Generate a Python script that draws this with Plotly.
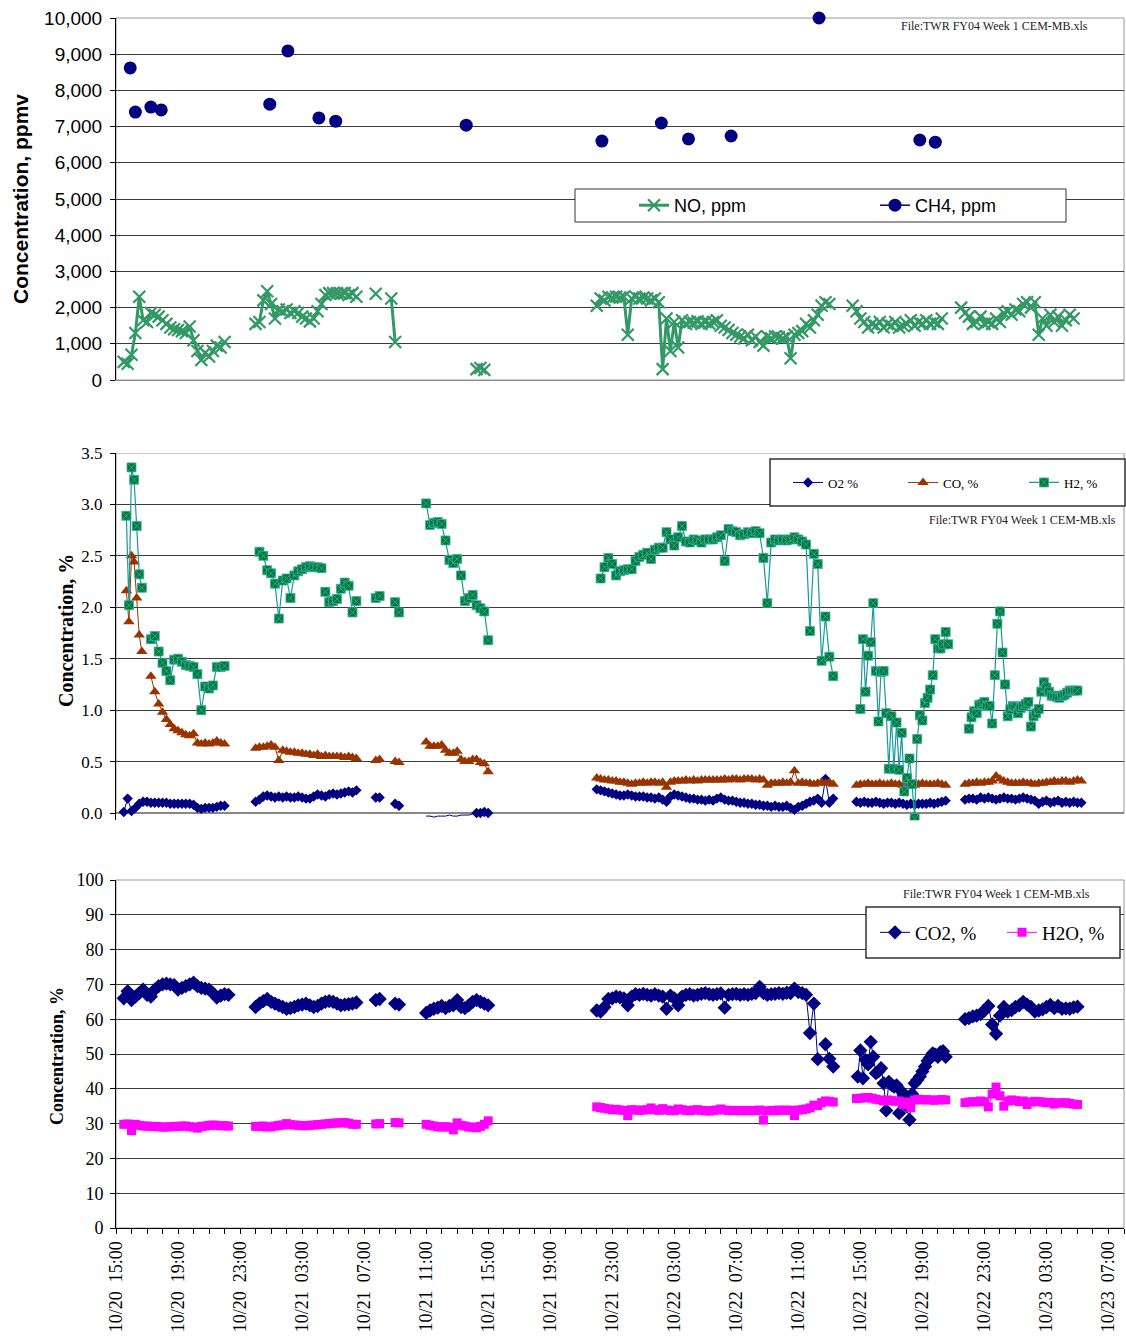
from datetime import datetime, timedelta
import plotly.graph_objects as go

YEAR = 2003

# ---------------- NO, ppm (15-minute CEM readings) ----------------
NO_A = [500, 450, 700, 1300, 2300, 1650, 1600, 1850, 1800, 1750, 1650, 1550, 1450, 1400,
        1380, 1350, 1300, 1480, 1100, 800, 550, 750, 650, 800, 950, 900, 1050]
NO_B = [1550, 1600, 2200, 2450, 2100, 1700, 1950, 1900, 1950, 1850, 1900, 1850, 1750, 1700,
        1620, 1700, 1900, 2100, 2350, 2400, 2400, 2400, 2380, 2400, 2350, 2400, 2300]
NO_C = [2380]
NO_D = [2250, 1050]
NO_E = [300, 330, 280]
NO_F = [2050, 2250, 2200, 2300, 2280, 2300, 2280, 2300, 1250, 2250, 2300, 2250, 2280, 2250,
        2200, 2250, 2150, 300, 1700, 800, 1600, 900, 1650, 1550, 1600, 1580, 1620, 1550,
        1600, 1560, 1600, 1650, 1500, 1450, 1380, 1300, 1250, 1200, 1150, 1250, 1100, 1200,
        1050, 950, 1200, 1150, 1200, 1180, 1150, 1200, 600, 1250, 1300, 1350, 1550, 1450,
        1650, 1800, 2050, 2150, 2100]
NO_G = [2050, 1900, 1700, 1600, 1450, 1550, 1500, 1600, 1450, 1550, 1500, 1600, 1450, 1500,
        1550, 1650, 1500, 1600, 1550, 1650, 1550, 1600, 1550, 1700]
NO_H = [2000, 1850, 1750, 1550, 1600, 1750, 1550, 1600, 1550, 1700, 1600, 1850, 1900, 1800,
        1950, 1900, 2100, 2150, 2000, 2150, 1250, 1700, 1500, 1800, 1600, 1750, 1500, 1650,
        1800, 1700]

# ---------------- CH4, ppm (grab samples) ----------------
CH4_TIMES = ["10-20 15:55", "10-20 16:15", "10-20 17:15", "10-20 17:55", "10-21 00:55",
             "10-21 02:05", "10-21 04:05", "10-21 05:10", "10-21 13:35", "10-21 22:20",
             "10-22 02:10", "10-22 03:55", "10-22 06:40", "10-22 12:20", "10-22 18:50",
             "10-22 19:50"]
CH4_PPM = [8620, 7400, 7540, 7460, 7620, 9090, 7240, 7150, 7040, 6600, 7100, 6660, 6740,
           10000, 6630, 6570]

# ---------------- O2, % ----------------
O2_A = [0.01, 0.14, 0.02, 0.05, 0.09, 0.11, 0.11, 0.10, 0.10, 0.10, 0.10, 0.10, 0.09, 0.09,
        0.09, 0.09, 0.09, 0.09, 0.08, 0.05, 0.04, 0.05, 0.05, 0.05, 0.06, 0.07, 0.07]
O2_B = [0.11, 0.13, 0.16, 0.17, 0.16, 0.15, 0.16, 0.15, 0.16, 0.15, 0.15, 0.16, 0.15, 0.14,
        0.14, 0.16, 0.18, 0.17, 0.16, 0.18, 0.19, 0.18, 0.19, 0.20, 0.21, 0.20, 0.22]
O2_C = [0.15, 0.15]
O2_D = [0.09, 0.07]
O2_E_LOW = [-0.03, -0.03, -0.04, -0.03, -0.03, -0.03, -0.02, -0.03, -0.03, -0.02, -0.02,
            -0.02, -0.01, 0.00]
O2_E = [0.00, 0.00, 0.01, 0.00]
O2_F = [0.23, 0.22, 0.21, 0.20, 0.19, 0.18, 0.17, 0.17, 0.18, 0.17, 0.16, 0.16, 0.16, 0.15,
        0.15, 0.14, 0.15, 0.13, 0.11, 0.16, 0.18, 0.17, 0.16, 0.15, 0.14, 0.14, 0.13, 0.13,
        0.12, 0.13, 0.12, 0.14, 0.15, 0.13, 0.12, 0.12, 0.11, 0.10, 0.10, 0.09, 0.09, 0.08,
        0.08, 0.07, 0.07, 0.06, 0.07, 0.06, 0.06, 0.07, 0.05, 0.03, 0.06, 0.07, 0.09, 0.11,
        0.12, 0.14, 0.10, 0.33, 0.10, 0.14]
O2_G = [0.11, 0.10, 0.11, 0.10, 0.10, 0.11, 0.10, 0.09, 0.10, 0.10, 0.09, 0.10, 0.09, 0.08,
        0.09, 0.08, 0.09, 0.09, 0.09, 0.10, 0.09, 0.10, 0.11, 0.12]
O2_H = [0.13, 0.14, 0.14, 0.13, 0.15, 0.14, 0.15, 0.14, 0.13, 0.14, 0.15, 0.14, 0.14, 0.13,
        0.14, 0.15, 0.14, 0.13, 0.12, 0.09, 0.11, 0.12, 0.10, 0.11, 0.12, 0.10, 0.11, 0.10,
        0.11, 0.10, 0.10]

# ---------------- CO, % ----------------
CO_A1 = [2.16, 1.86, 2.50, 2.44, 2.09, 1.73, 1.57]
CO_A2 = [1.33, 1.18, 1.06, 0.98, 0.91, 0.86, 0.82, 0.80, 0.78, 0.76, 0.75, 0.77, 0.68, 0.67,
         0.68, 0.67, 0.68, 0.70, 0.68, 0.67]
CO_B = [0.63, 0.64, 0.64, 0.65, 0.66, 0.64, 0.51, 0.61, 0.60, 0.59, 0.59, 0.58, 0.58, 0.57,
        0.57, 0.56, 0.57, 0.55, 0.56, 0.55, 0.55, 0.55, 0.55, 0.54, 0.55, 0.54, 0.53]
CO_C = [0.51, 0.52]
CO_D = [0.50, 0.49]
CO_E = [0.69, 0.65, 0.65, 0.65, 0.66, 0.61, 0.58, 0.58, 0.60, 0.52, 0.50, 0.50, 0.52, 0.52,
        0.49, 0.48, 0.40]
CO_F = [0.34, 0.33, 0.32, 0.32, 0.31, 0.31, 0.30, 0.30, 0.29, 0.28, 0.29, 0.29, 0.30, 0.29,
        0.30, 0.30, 0.29, 0.30, 0.25, 0.30, 0.31, 0.31, 0.31, 0.32, 0.31, 0.32, 0.31, 0.32,
        0.32, 0.32, 0.32, 0.32, 0.32, 0.33, 0.32, 0.33, 0.33, 0.32, 0.33, 0.33, 0.33, 0.32,
        0.33, 0.32, 0.27, 0.29, 0.29, 0.29, 0.30, 0.29, 0.30, 0.41, 0.29, 0.30, 0.29, 0.29,
        0.28, 0.29, 0.30, 0.29, 0.30, 0.28]
CO_G = [0.27, 0.28, 0.28, 0.29, 0.28, 0.28, 0.29, 0.28, 0.28, 0.29, 0.28, 0.28, 0.27, 0.28,
        0.28, 0.27, 0.28, 0.29, 0.28, 0.28, 0.28, 0.29, 0.28, 0.27]
CO_H = [0.28, 0.29, 0.29, 0.30, 0.29, 0.30, 0.30, 0.31, 0.36, 0.33, 0.31, 0.30, 0.29, 0.29,
        0.29, 0.30, 0.29, 0.29, 0.28, 0.29, 0.29, 0.30, 0.30, 0.31, 0.30, 0.31, 0.31, 0.30,
        0.31, 0.32, 0.31]

# ---------------- H2, % ----------------
H2_A1 = [2.89, 2.02, 3.36, 3.24, 2.79, 2.32, 2.19]
H2_A2 = [1.69, 1.72, 1.57, 1.46, 1.38, 1.29, 1.49, 1.50, 1.47, 1.44, 1.43, 1.42, 1.35, 1.00,
         1.23, 1.21, 1.24, 1.42, 1.42, 1.43]
H2_B1 = [2.54, 2.50, 2.36, 2.33, 2.23, 1.89, 2.26, 2.28, 2.09, 2.31, 2.35, 2.37, 2.39, 2.40,
         2.39, 2.39, 2.38]
H2_B2 = [2.15, 2.05, 2.06, 2.08, 2.18, 2.24, 2.21, 1.95, 2.06]
H2_C = [2.09, 2.11]
H2_D = [2.05, 1.95]
H2_E = [3.01, 2.80, 2.82, 2.83, 2.81, 2.65, 2.46, 2.43, 2.47, 2.31, 2.06, 2.09, 2.12, 2.02,
        1.99, 1.96, 1.68]
H2_F = [2.28, 2.39, 2.48, 2.42, 2.31, 2.35, 2.36, 2.37, 2.37, 2.45, 2.49, 2.51, 2.53, 2.47,
        2.56, 2.58, 2.58, 2.73, 2.66, 2.60, 2.68, 2.79, 2.64, 2.63, 2.66, 2.65, 2.63, 2.66,
        2.66, 2.66, 2.68, 2.70, 2.45, 2.76, 2.74, 2.73, 2.70, 2.71, 2.73, 2.72, 2.74, 2.72,
        2.48, 2.04, 2.63, 2.66, 2.65, 2.66, 2.65, 2.66, 2.68, 2.66, 2.64, 2.61, 1.77, 2.52,
        2.42, 1.48, 1.91, 1.52, 1.33]
H2_G = [1.01, 1.69, 1.18, 1.53, 1.66, 2.04, 1.38, 0.89, 1.37, 1.38, 0.97, 0.43, 0.94, 0.43,
        0.88, 0.42, 0.78, 0.21, 0.34, 0.53, 0.28, -0.05, 0.72, 0.95, 0.90, 1.07, 1.12, 1.20,
        1.34, 1.69, 1.60, 1.60, 1.64, 1.76, 1.64]
H2_H = [0.82, 0.93, 0.99, 0.97, 1.05, 1.06, 1.08, 1.04, 1.04, 0.87, 1.34, 1.84, 1.96, 1.56,
        1.25, 0.94, 1.01, 1.04, 1.03, 0.97, 1.02, 1.04, 1.06, 1.08, 0.84, 0.94, 0.97, 1.01,
        1.18, 1.27, 1.22, 1.18, 1.14, 1.14, 1.13, 1.12, 1.14, 1.15, 1.17, 1.19, 1.19, 1.19,
        1.19]

# ---------------- CO2, % ----------------
CO2_A = [66.0, 68.0, 65.5, 66.5, 67.5, 68.5, 67.0, 66.5, 68.5, 69.5, 70.0, 70.2, 70.0, 69.8,
         68.5, 69.0, 69.5, 70.0, 70.5, 69.5, 69.0, 68.8, 68.5, 67.5, 66.2, 66.8, 67.2, 67.0]
CO2_B = [63.5, 64.5, 65.2, 65.8, 65.0, 64.5, 64.0, 63.5, 63.0, 63.2, 63.5, 64.0, 64.2, 64.5,
         64.0, 63.5, 63.8, 64.5, 65.0, 65.2, 65.0, 64.5, 64.0, 64.2, 64.3, 64.5, 64.8]
CO2_C = [65.5, 65.8]
CO2_D = [64.5, 64.2]
CO2_E = [61.8, 62.5, 63.0, 63.3, 63.8, 63.2, 63.8, 64.0, 65.5, 63.5, 63.2, 64.0, 65.0, 65.5,
         65.0, 64.5, 64.0]
CO2_F = [62.5, 62.2, 63.5, 65.8, 66.0, 66.5, 66.3, 66.0, 64.0, 66.5, 67.2, 67.0, 67.3, 67.0,
         66.8, 67.2, 66.8, 66.5, 63.0, 66.8, 66.0, 64.0, 66.5, 67.0, 67.2, 66.8, 67.0, 67.3,
         67.5, 67.2, 67.0, 67.2, 67.4, 63.3, 67.0, 67.2, 67.3, 67.0, 67.2, 67.0, 67.3, 67.5,
         69.3, 67.5, 67.0, 67.2, 67.3, 67.5, 67.3, 67.6, 67.5, 68.8, 67.8, 67.5, 67.0, 56.0,
         64.5, 48.5, None, 52.8, 48.6, 46.4]
CO2_G = [43.5, 51.0, 43.0, 48.3, 47.0, 53.5, 49.2, 44.5, 45.0, 45.9, 41.6, 33.8, 42.0, 41.1,
         40.6, 41.0, 33.0, 39.2, 38.0, 35.0, 31.1, 38.5, 41.6, 42.5, 43.5, 45.0, 46.4, 48.0,
         49.0, 50.2, 49.8, 49.2, 50.5, 50.8, 49.2]
CO2_H = [60.0, 60.3, 60.8, 61.0, 61.5, 62.5, 63.8, 58.5, 55.8, 61.0, 63.5, 62.2, 62.6, 63.5,
         64.0, 65.0, 64.2, 63.5, 62.2, 62.5, 62.8, 63.5, 64.1, 63.2, 63.8, 63.0, 63.1, 63.0,
         63.4, 63.6]

# ---------------- H2O, % ----------------
H2O_A = [29.8, 29.9, 28.0, 29.8, 29.5, 29.3, 29.3, 29.2, 29.2, 29.1, 29.0, 29.0, 29.1, 29.2,
         29.2, 29.3, 29.3, 29.1, 29.0, 28.7, 29.2, 29.3, 29.5, 29.6, 29.5, 29.4, 29.4, 29.3]
H2O_B = [29.2, 29.2, 29.3, 29.0, 29.1, 29.3, 29.5, 29.6, 30.0, 29.7, 29.6, 29.5, 29.4, 29.4,
         29.5, 29.6, 29.7, 29.8, 29.9, 30.0, 30.1, 30.2, 30.2, 30.3, 30.1, 29.8, 29.8]
H2O_C = [29.9, 30.0]
H2O_D = [30.3, 30.2]
H2O_E = [29.8, 29.5, 29.3, 29.1, 29.0, 29.1, 29.0, 28.2, 30.2, 29.5, 29.3, 29.0, 29.0, 28.8,
         29.2, 29.8, 30.8]
H2O_F = [34.8, 34.6, 34.4, 34.2, 34.0, 34.1, 33.9, 33.8, 32.3, 34.0, 33.9, 33.8, 33.9, 34.0,
         34.5, 34.0, 33.8, 34.3, 33.9, 33.8, 33.7, 34.2, 34.0, 33.8, 33.7, 33.9, 34.0, 33.8,
         33.7, 33.6, 33.8, 33.9, 34.2, 33.9, 33.8, 33.7, 33.8, 33.7, 33.8, 33.7, 33.8, 33.7,
         33.9, 31.0, 33.7, 33.8, 33.7, 33.9, 33.8, 33.9, 33.8, 32.3, 33.9, 34.0, 34.2, 34.5,
         35.3, 35.2, 36.0, 36.5, 36.4, 36.2]
H2O_G = [37.2, 37.3, 37.4, 37.5, 37.3, 37.0, 36.8, 36.5, 36.8, 36.6, 36.4, 36.5, 35.5, 36.2,
         34.6, 36.8, 37.0, 36.8, 36.9, 36.8, 36.7, 36.8, 36.9, 36.8]
H2O_H = [36.0, 36.2, 36.3, 36.2, 36.5, 36.3, 34.8, 38.5, 40.5, 38.0, 35.0, 36.5, 36.8, 36.6,
         36.3, 36.5, 35.5, 36.2, 36.4, 36.3, 36.2, 36.0, 36.1, 35.6, 36.0, 35.9, 36.0, 35.8,
         35.6, 35.5]

# Time axis tick labels (every 4 h)
X_TICK_LABELS = ["10/20  15:00", "10/20  19:00", "10/20  23:00", "10/21  03:00",
                 "10/21  07:00", "10/21  11:00", "10/21  15:00", "10/21  19:00",
                 "10/21  23:00", "10/22  03:00", "10/22  07:00", "10/22  11:00",
                 "10/22  15:00", "10/22  19:00", "10/22  23:00", "10/23  03:00",
                 "10/23  07:00"]
X_START, X_END = "10-20 15:00", "10-23 08:00"

# Logged segments: (start time, sample interval in minutes, values)
NO_BLOCKS = [("10-20 15:30", 15, NO_A), ("10-21 00:00", 15, NO_B), ("10-21 07:45", 15, NO_C),
             ("10-21 08:45", 15, NO_D), ("10-21 14:15", 15, NO_E), ("10-21 22:00", 15, NO_F),
             ("10-22 14:30", 15, NO_G), ("10-22 21:30", 15, NO_H)]
O2_BLOCKS = [("10-20 15:30", 15, O2_A), ("10-21 00:00", 15, O2_B), ("10-21 07:45", 15, O2_C),
             ("10-21 09:00", 15, O2_D), ("10-21 14:15", 15, O2_E), ("10-21 22:00", 15, O2_F),
             ("10-22 14:45", 15, O2_G), ("10-22 21:45", 15, O2_H)]
O2_LOW_BLOCKS = [("10-21 11:00", 15, O2_E_LOW)]
CO_BLOCKS = [("10-20 15:40", 10, CO_A1), ("10-20 17:15", 15, CO_A2), ("10-21 00:00", 15, CO_B),
             ("10-21 07:45", 15, CO_C), ("10-21 09:00", 15, CO_D), ("10-21 11:00", 15, CO_E),
             ("10-21 22:00", 15, CO_F), ("10-22 14:45", 15, CO_G), ("10-22 21:45", 15, CO_H)]
H2_BLOCKS = [("10-20 15:40", 10, H2_A1), ("10-20 17:15", 15, H2_A2), ("10-21 00:15", 15, H2_B1),
             ("10-21 04:30", 15, H2_B2), ("10-21 07:45", 15, H2_C), ("10-21 09:00", 15, H2_D),
             ("10-21 11:00", 15, H2_E), ("10-21 22:15", 15, H2_F), ("10-22 15:00", 10, H2_G),
             ("10-22 22:00", 10, H2_H)]
CO2_BLOCKS = [("10-20 15:30", 15, CO2_A), ("10-21 00:00", 15, CO2_B), ("10-21 07:45", 15, CO2_C),
              ("10-21 09:00", 15, CO2_D), ("10-21 11:00", 15, CO2_E), ("10-21 22:00", 15, CO2_F),
              ("10-22 14:50", 10, CO2_G), ("10-22 21:45", 15, CO2_H)]
H2O_BLOCKS = [("10-20 15:30", 15, H2O_A), ("10-21 00:00", 15, H2O_B), ("10-21 07:45", 15, H2O_C),
              ("10-21 09:00", 15, H2O_D), ("10-21 11:00", 15, H2O_E), ("10-21 22:00", 15, H2O_F),
              ("10-22 14:45", 15, H2O_G), ("10-22 21:45", 15, H2O_H)]

FILE_NOTE = "File:TWR FY04 Week 1 CEM-MB.xls"
SERIF = "Liberation Serif, Times New Roman, serif"
SANS = "Liberation Sans, Arial, sans-serif"
W, H = 1126, 1340


def when(s):
    return datetime.strptime(f"{YEAR}-{s}", "%Y-%m-%d %H:%M")


def expand(blocks):
    xs, ys = [], []
    for start, step, vals in blocks:
        t0 = when(start)
        for i, v in enumerate(vals):
            xs.append(t0 + timedelta(minutes=step * i))
            ys.append(v)
        xs.append(None)
        ys.append(None)
    return xs, ys


def py(pix):
    return 1 - pix / H


def px(pix):
    return pix / W


X0, X1 = px(116), px(1124)
tick_times = [datetime.strptime(f"{YEAR}/{t}", "%Y/%m/%d %H:%M") for t in X_TICK_LABELS]

fig = go.Figure()

# ---- top panel: NO and CH4
x, y = expand(NO_BLOCKS)
fig.add_trace(go.Scatter(x=x, y=y, mode="lines+markers", name="NO, ppm",
                         line=dict(color="#339966", width=3),
                         marker=dict(symbol="x-thin", size=12, color="#339966",
                                     line=dict(color="#339966", width=2.2)),
                         xaxis="x", yaxis="y", legend="legend"))
ch4_x = []
ch4_y = []
for t, v in zip(CH4_TIMES, CH4_PPM):
    ch4_x += [when(t), None]
    ch4_y += [v, None]
fig.add_trace(go.Scatter(x=ch4_x, y=ch4_y, mode="lines+markers", name="CH4, ppm",
                         line=dict(color="#000080", width=1.5),
                         marker=dict(symbol="circle", size=13, color="#000080"),
                         cliponaxis=False, xaxis="x", yaxis="y", legend="legend2"))

# ---- middle panel: O2, CO, H2
x, y = expand(O2_LOW_BLOCKS)
fig.add_trace(go.Scatter(x=x, y=y, mode="lines", line=dict(color="#000080", width=1),
                         showlegend=False, xaxis="x2", yaxis="y2"))
x, y = expand(O2_BLOCKS)
fig.add_trace(go.Scatter(x=x, y=y, mode="lines+markers", name="O2 %",
                         line=dict(color="#000080", width=1),
                         marker=dict(symbol="diamond", size=8, color="#000080"),
                         xaxis="x2", yaxis="y2", legend="legend3"))
x, y = expand(CO_BLOCKS)
fig.add_trace(go.Scatter(x=x, y=y, mode="lines+markers", name="CO, %",
                         line=dict(color="#993300", width=1),
                         marker=dict(symbol="triangle-up", size=10, color="#993300"),
                         xaxis="x2", yaxis="y2", legend="legend4"))
x, y = expand(H2_BLOCKS)
fig.add_trace(go.Scatter(x=x, y=y, mode="lines+markers", name="H2, %",
                         line=dict(color="#199a9a", width=1.2),
                         marker=dict(symbol="square-x", size=9, color="#007a30",
                                     line=dict(color="#3aaeae", width=0.8)),
                         xaxis="x2", yaxis="y2", legend="legend5"))

# ---- bottom panel: CO2, H2O
x, y = expand(CO2_BLOCKS)
fig.add_trace(go.Scatter(x=x, y=y, mode="lines+markers", name="CO2, %",
                         line=dict(color="#000080", width=1),
                         marker=dict(symbol="diamond", size=11, color="#000080"),
                         xaxis="x3", yaxis="y3", legend="legend6"))
x, y = expand(H2O_BLOCKS)
fig.add_trace(go.Scatter(x=x, y=y, mode="lines+markers", name="H2O, %",
                         line=dict(color="#FF00FF", width=1),
                         marker=dict(symbol="square", size=9, color="#FF00FF"),
                         xaxis="x3", yaxis="y3", legend="legend7"))

x_range = [when(X_START), when(X_END)]
GRID = "#3c3c3c"
xcommon = dict(range=x_range, domain=[X0, X1], showgrid=False, zeroline=False,
               fixedrange=True, automargin=False)


def legend_at(left, center_y, family, size):
    return dict(orientation="h", x=px(left), y=py(center_y), xanchor="left",
                yanchor="middle", bgcolor="rgba(0,0,0,0)", borderwidth=0,
                font=dict(family=family, size=size, color="black"))


fig.update_layout(
    width=W, height=H, autosize=False,
    margin=dict(l=0, r=0, t=0, b=0, autoexpand=False),
    paper_bgcolor="white", plot_bgcolor="white",
    showlegend=True,
    xaxis=dict(**xcommon, anchor="y", showticklabels=False, ticks="",
               showline=True, linecolor="#888888", linewidth=1),
    yaxis=dict(domain=[py(380), py(18)], range=[0, 10000], dtick=1000, tickformat=",d",
               showgrid=True, gridcolor=GRID, gridwidth=1, zeroline=False, automargin=False,
               showline=True, linecolor="black", linewidth=1, ticks="outside", ticklen=5,
               tickcolor="black", tickfont=dict(family=SANS, size=19, color="black"),
               ticklabelstandoff=4, anchor="x"),
    xaxis2=dict(**xcommon, anchor="y2", showticklabels=False, ticks="", showline=False,
                matches="x"),
    yaxis2=dict(domain=[py(820.2), py(453)], range=[-0.07, 3.5],
                tickvals=[0, 0.5, 1.0, 1.5, 2.0, 2.5, 3.0, 3.5], tickformat=".1f",
                showgrid=True, gridcolor=GRID, gridwidth=1, automargin=False,
                zeroline=True, zerolinecolor="#888888", zerolinewidth=1.5,
                showline=True, linecolor="black", linewidth=1, ticks="outside", ticklen=5,
                tickcolor="black", tickfont=dict(family=SERIF, size=17, color="black"),
                ticklabelstandoff=4, anchor="x2"),
    xaxis3=dict(**xcommon, anchor="y3", matches="x",
                tickmode="array", tickvals=tick_times, ticktext=X_TICK_LABELS,
                tickangle=-90, tickfont=dict(family=SERIF, size=18, color="black"),
                ticks="outside", ticklen=5, tickcolor="black",
                showline=True, linecolor="black", linewidth=1,
                minor=dict(tickmode="linear", tick0=when(X_START), dtick=3600000,
                           ticks="outside", ticklen=5, tickcolor="black", showgrid=False)),
    yaxis3=dict(domain=[py(1228), py(880)], range=[0, 100], dtick=10,
                showgrid=True, gridcolor=GRID, gridwidth=1, zeroline=False, automargin=False,
                showline=True, linecolor="black", linewidth=1, ticks="outside", ticklen=5,
                tickcolor="black", tickfont=dict(family=SERIF, size=18, color="black"),
                ticklabelstandoff=3, anchor="x3"),
    legend=legend_at(634, 205.5, SANS, 18),
    legend2=legend_at(875, 205.5, SANS, 18),
    legend3=legend_at(788, 482.5, SERIF, 13),
    legend4=legend_at(903, 482.5, SERIF, 13),
    legend5=legend_at(1024, 482.5, SERIF, 13),
    legend6=legend_at(875, 932.5, SERIF, 19),
    legend7=legend_at(1002, 932.5, SERIF, 19),
)

# panel frames and legend boxes
shapes = [
    dict(type="rect", xref="paper", yref="paper", x0=X0, x1=X1, y0=py(380), y1=py(18),
         line=dict(color="#999999", width=1), layer="below"),
    dict(type="rect", xref="paper", yref="y2", x0=X0, x1=X1, y0=0, y1=3.5,
         line=dict(color="#999999", width=1), layer="below"),
    dict(type="rect", xref="paper", yref="paper", x0=X0, x1=X1, y0=py(1228), y1=py(880),
         line=dict(color="#999999", width=1), layer="below"),
    dict(type="rect", xref="paper", yref="paper", x0=px(575), x1=px(1066), y0=py(222), y1=py(189),
         line=dict(color="#333333", width=1), fillcolor="white", layer="above"),
    dict(type="rect", xref="paper", yref="paper", x0=px(770), x1=px(1125), y0=py(506), y1=py(459),
         line=dict(color="#333333", width=1.5), fillcolor="white", layer="above"),
    dict(type="rect", xref="paper", yref="paper", x0=px(866), x1=px(1120), y0=py(958), y1=py(907),
         line=dict(color="#333333", width=1.5), fillcolor="white", layer="above"),
]
fig.update_layout(shapes=shapes)

annotations = [
    dict(text="<b>Concentration, ppmv</b>", x=px(20), y=py(199), textangle=-90,
         font=dict(family=SANS, size=21, color="black")),
    dict(text="<b>Concentration, %</b>", x=px(66), y=py(631), textangle=-90,
         font=dict(family=SERIF, size=20, color="black")),
    dict(text="<b>Concentration, %</b>", x=px(57), y=py(1056), textangle=-90,
         font=dict(family=SERIF, size=18, color="black")),
    dict(text=FILE_NOTE, x=px(1090), y=py(26), xanchor="right",
         font=dict(family=SERIF, size=12, color="#222222")),
    dict(text=FILE_NOTE, x=px(1118), y=py(520), xanchor="right",
         font=dict(family=SERIF, size=12, color="#222222")),
    dict(text=FILE_NOTE, x=px(1092), y=py(894), xanchor="right",
         font=dict(family=SERIF, size=12, color="#222222")),
]
for a in annotations:
    a.update(xref="paper", yref="paper", showarrow=False, yanchor="middle")
    a.setdefault("xanchor", "center")
fig.update_layout(annotations=annotations)

fig.write_html("out.html")
